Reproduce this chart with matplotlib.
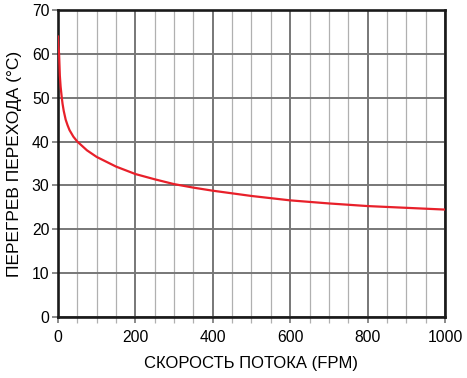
import numpy as np
import matplotlib
matplotlib.use("Agg")
import matplotlib.pyplot as plt
from matplotlib.ticker import MultipleLocator

# curve
flow_fpm = [0, 1, 3, 5, 7, 10, 12, 15, 20, 25, 30, 40, 50, 75, 100, 150, 200, 250, 300,
            350, 400, 500, 600, 700, 800, 900, 1000]
overheat_c = [64, 62, 60, 55, 52.5, 50, 48.6, 47, 45, 43.7, 42.6, 41.1, 40, 38, 36.5,
              34.3, 32.6, 31.4, 30.3, 29.5, 28.8, 27.6, 26.6, 25.9, 25.3, 24.9, 24.5]

x_label = "СКОРОСТЬ ПОТОКА (FPM)"
y_label = "ПЕРЕГРЕВ ПЕРЕХОДА (°C)"

plt.rcParams['font.family'] = ['Liberation Sans', 'DejaVu Sans']

fig = plt.figure(figsize=(4.67, 3.78), dpi=100)
ax = fig.add_axes([0.124, 0.161, 0.829, 0.813])

ax.set_xlim(0, 1000)
ax.set_ylim(0, 70)

ax.xaxis.set_major_locator(MultipleLocator(200))
ax.xaxis.set_minor_locator(MultipleLocator(50))
ax.yaxis.set_major_locator(MultipleLocator(10))

# grid: dark at majors, light at minor verticals
ax.grid(True, which='major', color='#777777', linewidth=1.4)
ax.grid(True, which='minor', axis='x', color='#b0b0b0', linewidth=0.9)
ax.set_axisbelow(True)

ax.tick_params(axis='both', which='major', direction='out', length=4,
               width=1.2, color='#777777', labelsize=11.3)
ax.tick_params(axis='x', which='major', pad=5)
ax.tick_params(axis='y', which='major', pad=2)
ax.tick_params(axis='x', which='minor', direction='out', length=4,
               width=0.9, color='#b0b0b0')

for s in ax.spines.values():
    s.set_linewidth(1.9)
    s.set_color('#1a1a1a')

ax.plot(flow_fpm, overheat_c, color='#e8202a', linewidth=1.6,
        solid_capstyle='round', clip_on=True, zorder=3)

ax.set_xlabel(x_label, fontsize=12, labelpad=8)
ax.set_ylabel(y_label, fontsize=12.5, labelpad=7)

fig.savefig("out.png", dpi=100)
